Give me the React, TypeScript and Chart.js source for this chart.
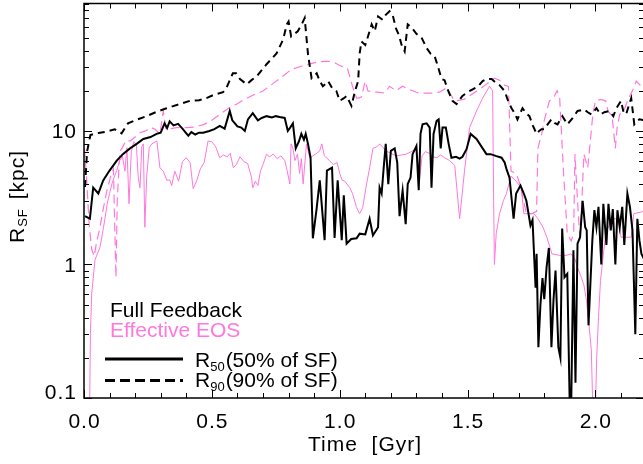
import React, { useEffect, useRef } from 'react';
import { Chart, registerables } from 'chart.js';

Chart.register(...registerables);

const FONT = '"Liberation Sans", Arial, Helvetica, sans-serif';
const PINK = 'rgb(255,120,220)';

// Full Feedback, R50 (black solid)  [time Gyr, kpc]
const ffR50: [number, number][] = [
  [0.004,2.3],[0.023,2.2],[0.036,3.76],[0.056,3.4],[0.075,4.26],[0.1,5.05],[0.128,6.0],[0.152,6.7],[0.18,7.4],[0.206,8.0],
  [0.232,8.7],[0.26,9.0],[0.284,9.5],[0.3,9.7],[0.315,11.4],[0.325,10.5],[0.335,11.8],[0.35,11.0],[0.368,11.3],[0.385,10.4],
  [0.4,9.6],[0.408,9.2],[0.42,9.8],[0.435,9.4],[0.45,9.7],[0.466,9.7],[0.49,10.0],[0.51,10.3],[0.531,10.9],[0.55,10.4],
  [0.57,14.1],[0.58,12.0],[0.6,10.8],[0.615,10.6],[0.629,10.0],[0.641,12.2],[0.66,13.6],[0.68,12.0],[0.695,12.5],[0.714,12.9],
  [0.735,12.6],[0.75,12.9],[0.765,12.7],[0.785,12.5],[0.797,10.0],[0.805,10.5],[0.817,11.4],[0.828,7.4],[0.84,8.3],[0.85,9.5],
  [0.86,8.6],[0.867,9.5],[0.876,8.0],[0.886,6.3],[0.895,1.57],[0.909,2.55],[0.922,4.26],[0.941,1.52],[0.95,5.05],[0.97,5.3],
  [0.98,1.58],[0.992,4.26],[1.008,1.52],[1.016,3.3],[1.027,1.43],[1.045,1.55],[1.066,1.57],[1.078,1.7],[1.1,1.68],[1.117,2.2],
  [1.13,1.65],[1.15,1.9],[1.156,3.76],[1.164,3.4],[1.172,5.3],[1.18,8.0],[1.19,4.0],[1.2,7.1],[1.215,7.4],[1.225,5.8],
  [1.234,2.3],[1.246,3.58],[1.258,2.0],[1.266,4.0],[1.277,4.47],[1.285,6.7],[1.3,7.7],[1.309,3.6],[1.316,9.5],[1.324,11.2],
  [1.34,11.4],[1.352,10.6],[1.359,3.76],[1.367,9.5],[1.379,11.9],[1.387,12.2],[1.395,7.4],[1.402,10.6],[1.415,10.6],[1.426,8.0],
  [1.437,6.3],[1.455,6.4],[1.469,6.2],[1.48,6.4],[1.496,7.3],[1.512,9.5],[1.535,8.7],[1.559,7.4],[1.574,6.7],[1.59,6.7],
  [1.61,6.5],[1.633,6.3],[1.645,5.8],[1.652,5.2],[1.664,4.47],[1.68,2.2],[1.69,3.4],[1.707,3.9],[1.72,3.4],[1.73,3.0],
  [1.746,1.96],[1.754,2.15],[1.766,0.67],[1.77,1.2],[1.777,0.24],[1.785,0.5],[1.793,0.79],[1.8,0.55],[1.809,0.95],[1.818,1.33],
  [1.828,0.24],[1.836,0.54],[1.844,0.9],[1.855,0.24],[1.863,0.2],[1.87,1.86],[1.879,0.8],[1.89,0.85],[1.9,0.08],[1.905,0.08],
  [1.914,1.28],[1.922,0.13],[1.93,1.43],[1.94,1.6],[1.95,3.0],[1.96,1.9],[1.966,1.8],[1.973,0.35],[1.988,1.52],[1.996,2.55],
  [2.004,1.9],[2.012,2.7],[2.023,1.0],[2.031,2.85],[2.043,1.4],[2.051,2.85],[2.06,1.8],[2.068,2.6],[2.078,1.0],[2.086,2.55],
  [2.095,1.9],[2.105,2.7],[2.113,1.4],[2.125,3.4],[2.135,2.7],[2.145,1.8],[2.156,0.3],[2.164,2.2],[2.172,1.52],[2.18,1.2],[2.19,1.1],
];

// Full Feedback, R90 (black dashed)
const ffR90: [number, number][] = [
  [0.004,3.8],[0.012,7.0],[0.025,9.3],[0.04,9.5],[0.062,9.7],[0.09,9.9],[0.12,10.3],[0.147,9.6],[0.172,11.4],[0.2,12.0],
  [0.245,12.9],[0.28,13.8],[0.323,14.8],[0.37,15.8],[0.414,16.8],[0.45,17.0],[0.479,17.6],[0.504,18.5],[0.544,19.5],[0.557,21],
  [0.582,27],[0.595,27],[0.61,24.5],[0.636,22.3],[0.655,24],[0.675,25.6],[0.714,31.6],[0.753,38],[0.779,48.5],[0.793,62.8],
  [0.8,66],[0.81,51],[0.836,55.8],[0.85,62],[0.863,70],[0.876,37.6],[0.89,24.8],[0.91,27],[0.922,23.6],[0.934,21.6],
  [0.945,22.5],[0.955,23.6],[0.97,21],[0.987,19.9],[1.0,16.8],[1.015,17.5],[1.027,18.3],[1.046,15.4],[1.06,19.9],[1.072,23.6],
  [1.078,38],[1.085,46.7],[1.1,44],[1.112,52],[1.125,62.8],[1.137,55.8],[1.15,72],[1.168,68],[1.18,74],[1.195,78.7],
  [1.207,74],[1.22,58.5],[1.232,52],[1.242,44],[1.254,39.4],[1.266,62.8],[1.28,60],[1.3,53.4],[1.32,50],[1.34,41.7],
  [1.355,38],[1.371,36.4],[1.385,30],[1.398,24.5],[1.41,24],[1.422,20.5],[1.441,16.8],[1.457,15.9],[1.48,18.3],[1.5,19.5],
  [1.52,20.5],[1.54,21.5],[1.559,23.6],[1.575,24.5],[1.594,24.5],[1.61,23],[1.625,22],[1.645,19.9],[1.66,16.5],[1.672,14.8],
  [1.685,13.5],[1.695,12.2],[1.705,13.5],[1.715,14.8],[1.73,13.5],[1.742,12.9],[1.755,11],[1.77,9.5],[1.78,10],[1.789,10.3],
  [1.8,10.3],[1.81,11],[1.828,12.2],[1.84,11.5],[1.852,11.2],[1.871,12.9],[1.89,11.2],[1.91,12.4],[1.93,14.1],[1.957,14.5],
  [1.97,13.8],[1.984,13.3],[2.004,14.8],[2.02,13.3],[2.035,13.8],[2.055,14.1],[2.07,12.9],[2.082,14.8],[2.1,16.8],[2.11,13.8],
  [2.12,13.3],[2.14,17.6],[2.152,11.2],[2.165,12],[2.172,12.2],[2.19,12],
];

// Effective EOS, R50 (pink solid)
const eosR50: [number, number][] = [
  [0.022,0.08],[0.025,0.3],[0.03,0.6],[0.043,1.08],[0.052,1.2],[0.062,1.33],[0.072,1.7],[0.082,2.2],[0.09,2.8],[0.1,3.4],
  [0.112,4.2],[0.128,5.05],[0.14,6.0],[0.15,6.5],[0.16,5.0],[0.168,7.5],[0.176,2.85],[0.185,7.0],[0.195,8.3],[0.205,7.8],
  [0.212,4.5],[0.219,3.75],[0.226,7.6],[0.232,8.0],[0.238,1.9],[0.245,4.5],[0.255,7.5],[0.265,8.0],[0.275,8.2],[0.285,8.4],
  [0.297,5.3],[0.31,5.0],[0.324,4.26],[0.335,4.3],[0.343,3.9],[0.355,5.0],[0.37,4.2],[0.385,5.9],[0.4,6.3],[0.415,5.8],
  [0.427,3.7],[0.44,4.2],[0.455,5.2],[0.47,5.8],[0.485,8.4],[0.5,8.3],[0.515,7.6],[0.531,6.3],[0.545,6.6],[0.56,6.4],
  [0.572,6.8],[0.584,5.3],[0.596,5.6],[0.61,6.4],[0.625,5.9],[0.64,5.7],[0.655,4.5],[0.66,3.75],[0.67,4.2],[0.68,3.9],
  [0.69,5.0],[0.7,5.6],[0.714,6.7],[0.725,6.4],[0.74,6.7],[0.755,6.2],[0.77,6.5],[0.785,6.0],[0.792,5.3],[0.805,4.0],
  [0.81,8.0],[0.817,7.4],[0.825,6.0],[0.835,6.7],[0.843,4.8],[0.85,6.2],[0.857,4.0],[0.87,8.0],[0.883,6.3],[0.895,6.5],
  [0.91,6.8],[0.922,7.1],[0.93,8.0],[0.94,6.5],[0.96,6.0],[0.975,5.6],[0.99,5.8],[1.0,4.8],[1.01,4.26],[1.02,4.2],
  [1.04,3.75],[1.05,3.4],[1.066,2.67],[1.078,2.4],[1.09,2.67],[1.105,4.0],[1.117,5.3],[1.13,7.4],[1.145,7.6],[1.156,8.0],
  [1.17,7.5],[1.18,7.1],[1.2,6.8],[1.22,6.5],[1.24,6.6],[1.26,6.7],[1.28,7.0],[1.3,7.4],[1.312,4.26],[1.322,6.5],
  [1.335,7.0],[1.35,6.8],[1.365,6.4],[1.38,6.3],[1.395,6.6],[1.41,6.3],[1.43,6.0],[1.45,5.5],[1.469,2.2],[1.488,5.0],
  [1.508,10.6],[1.535,14.1],[1.559,17.6],[1.586,21.6],[1.598,20],[1.602,3.0],[1.605,1.0],[1.612,1.7],[1.625,2.4],[1.64,3.0],
  [1.652,3.4],[1.67,4.6],[1.69,4.2],[1.71,3.75],[1.72,2.4],[1.74,2.4],[1.76,2.4],[1.775,2.2],[1.795,1.9],[1.81,1.6],
  [1.83,1.2],[1.86,1.17],[1.885,1.17],[1.905,1.2],[1.92,1.1],[1.93,0.95],[1.945,0.8],[1.955,0.7],[1.965,0.54],[1.975,0.35],
  [1.984,0.23],[1.99,0.08],[2.0,0.08],[2.005,0.2],[2.012,0.4],[2.02,0.76],[2.04,1.7],[2.06,2.1],[2.07,2.2],[2.09,2.2],
  [2.1,1.6],[2.14,1.6],[2.15,2.4],[2.19,2.5],
];

// Effective EOS, R90 (pink dashed)
const eosR90: [number, number][] = [
  [0.002,7.4],[0.01,4.5],[0.02,2.0],[0.03,1.3],[0.04,1.15],[0.05,1.5],[0.06,1.8],[0.075,2.6],[0.09,3.6],[0.105,4.6],
  [0.115,5.2],[0.12,2.0],[0.125,0.8],[0.13,3.0],[0.14,7.0],[0.15,7.5],[0.165,8.5],[0.18,8.4],[0.2,9.0],[0.219,9.7],
  [0.24,10.0],[0.264,10.6],[0.28,10.2],[0.297,9.5],[0.31,14.1],[0.32,10.4],[0.34,10.4],[0.362,10.6],[0.4,10.6],[0.434,10.7],
  [0.47,11.2],[0.5,12.0],[0.531,13.3],[0.57,15],[0.6,16],[0.622,17],[0.66,18.5],[0.7,19.9],[0.74,22.7],[0.77,25],
  [0.81,28.8],[0.85,30.5],[0.883,31.8],[0.92,33],[0.941,33.2],[0.96,33.2],[0.98,32.5],[1.0,30.9],[1.03,29.5],[1.05,21.6],
  [1.066,17.6],[1.075,17.6],[1.085,18],[1.1,23.6],[1.11,20],[1.13,19.5],[1.15,19.5],[1.176,19.2],[1.195,21.6],[1.22,20],
  [1.246,21.6],[1.27,20.5],[1.3,19.5],[1.31,19.2],[1.36,19.2],[1.39,19.5],[1.418,21],[1.449,16.8],[1.47,17],[1.488,17.3],
  [1.52,19],[1.547,20.5],[1.578,22.7],[1.605,24.8],[1.625,24],[1.645,22],[1.66,21.5],[1.67,5.0],[1.69,4.8],[1.7,4.26],
  [1.71,3.6],[1.73,2.4],[1.75,2.4],[1.77,2.5],[1.775,7.4],[1.79,9.5],[1.8,12],[1.82,16.8],[1.835,17.5],[1.85,20],
  [1.86,18],[1.875,5],[1.89,1.7],[1.905,1.5],[1.915,1.7],[1.92,6.7],[1.93,3],[1.94,1.5],[1.955,6.7],[1.97,5.3],
  [1.98,8.4],[1.99,13.3],[2.0,16.8],[2.02,17.2],[2.04,16.8],[2.05,14],[2.065,13],[2.078,7.4],[2.085,10.6],[2.095,13.3],
  [2.11,14],[2.13,17.6],[2.145,20],[2.16,23.6],[2.175,22],[2.19,23],
];

const xMajorTicks = [0, 0.5, 1.0, 1.5, 2.0];
const xTickLabels = ['0.0', '0.5', '1.0', '1.5', '2.0'];
const yMajorTicks = [0.1, 1, 10];
const yTickLabels = ['0.1', '1', '10'];
const legendGroups = ['Full Feedback', 'Effective EOS'];
const legendLines = [
  { sub: '50', text: '(50% of SF)' },
  { sub: '90', text: '(90% of SF)' },
];

const X_MIN = 0;
const X_MAX = 2.19;
const Y_MIN = 0.1;
const Y_MAX = 90;
const CW = 650;
const CH = 464;

const toXY = (a: [number, number][]) => a.map(([x, y]) => ({ x, y }));

const decor = {
  id: 'decor',
  afterDraw(chart: any) {
    const { ctx, chartArea: a, scales } = chart;
    const xs = scales.x;
    const ys = scales.y;
    ctx.save();
    const seg = (x1: number, y1: number, x2: number, y2: number) => {
      ctx.beginPath();
      ctx.moveTo(x1, y1);
      ctx.lineTo(x2, y2);
      ctx.stroke();
    };
    ctx.strokeStyle = '#000';
    ctx.setLineDash([]);
    // frame
    ctx.lineWidth = 1.5;
    ctx.strokeRect(a.left, a.top, a.right - a.left, a.bottom - a.top);
    // x ticks (inward, top & bottom)
    ctx.lineWidth = 1;
    for (let i = 0; i <= 22; i++) {
      const v = i / 10;
      if (v > xs.max) break;
      const px = Math.round(xs.getPixelForValue(v)) + 0.5;
      const len = i % 5 === 0 ? 8 : 5;
      seg(px, a.bottom, px, a.bottom - len);
      seg(px, a.top, px, a.top + len);
    }
    // y ticks (inward, left & right)
    for (let d = -1; d <= 1; d++) {
      for (let m = 1; m <= 9; m++) {
        const v = m * Math.pow(10, d);
        if (v < ys.min - 1e-9 || v > ys.max) continue;
        const py = Math.round(ys.getPixelForValue(v)) + 0.5;
        const len = m === 1 ? 8 : 5;
        seg(a.left, py, a.left + len, py);
        seg(a.right, py, a.right - len, py);
      }
    }
    // tick labels
    ctx.fillStyle = '#000';
    ctx.font = `21px ${FONT}`;
    (ctx as any).letterSpacing = '1px';
    ctx.textBaseline = 'alphabetic';
    ctx.textAlign = 'center';
    xMajorTicks.forEach((v, i) => {
      ctx.fillText(xTickLabels[i], xs.getPixelForValue(v) + 0.5, a.bottom + 30);
    });
    ctx.textAlign = 'right';
    yMajorTicks.forEach((v, i) => {
      const py = ys.getPixelForValue(v);
      ctx.fillText(yTickLabels[i], 77, Math.min(py + 7.5, a.bottom + 0.5));
    });
    // x title
    ctx.textAlign = 'left';
    ctx.fillText('Time  [Gyr]', 308, 451);
    // y title (rotated)
    ctx.save();
    ctx.translate(24, 243);
    ctx.rotate(-Math.PI / 2);
    ctx.font = `21px ${FONT}`;
    ctx.fillText('R', 0, 0);
    const wR = ctx.measureText('R').width;
    ctx.font = `13px ${FONT}`;
    ctx.fillText('SF', wR, 3);
    const wSF = ctx.measureText('SF').width;
    ctx.font = `21px ${FONT}`;
    ctx.fillText('[kpc]', wR + wSF + 9, 0);
    ctx.restore();
    // legend
    (ctx as any).letterSpacing = '0px';
    ctx.font = `21px ${FONT}`;
    ctx.textAlign = 'left';
    ctx.fillStyle = '#000';
    ctx.fillText(legendGroups[0], 110, 317);
    ctx.fillStyle = PINK;
    ctx.fillText(legendGroups[1], 110, 337);
    ctx.fillStyle = '#000';
    ctx.lineWidth = 3;
    legendLines.forEach((l, i) => {
      const y = 359 + i * 21.5;
      ctx.setLineDash(i === 0 ? [] : [10, 5]);
      seg(105, y, 183, y);
      ctx.setLineDash([]);
      const base = 367 + i * 20;
      ctx.font = `21px ${FONT}`;
      ctx.fillText('R', 195, base);
      const w1 = ctx.measureText('R').width;
      ctx.font = `13px ${FONT}`;
      ctx.fillText(l.sub, 195 + w1, base + 4);
      const w2 = ctx.measureText(l.sub).width;
      ctx.font = `21px ${FONT}`;
      ctx.fillText(l.text, 195 + w1 + w2 + 1, base);
    });
    ctx.restore();
  },
};

export default function App() {
  const ref = useRef<HTMLCanvasElement | null>(null);
  useEffect(() => {
    if (!ref.current) return;
    const chart = new Chart(ref.current, {
      type: 'line',
      data: {
        datasets: [
          { label: 'FF R50', data: toXY(ffR50), borderColor: '#000', borderWidth: 2, clip: 0 },
          { label: 'FF R90', data: toXY(ffR90), borderColor: '#000', borderWidth: 2, borderDash: [7, 5], clip: 0 },
          { label: 'EOS R50', data: toXY(eosR50), borderColor: PINK, borderWidth: 1, clip: 0 },
          { label: 'EOS R90', data: toXY(eosR90), borderColor: PINK, borderWidth: 1.2, borderDash: [9, 5], clip: 0 },
        ] as any,
      },
      options: {
        responsive: false,
        maintainAspectRatio: false,
        animation: false,
        parsing: true as any,
        layout: { padding: { left: 84, top: 3.5, right: CW - 644, bottom: CH - 398 } },
        elements: { point: { radius: 0 }, line: { tension: 0, fill: false } },
        plugins: { legend: { display: false }, tooltip: { enabled: false } },
        scales: {
          x: { type: 'linear', min: X_MIN, max: X_MAX, display: false },
          y: { type: 'logarithmic', min: Y_MIN, max: Y_MAX, display: false },
        },
      },
      plugins: [decor],
    });
    return () => chart.destroy();
  }, []);
  return (
    <div style={{ position: 'absolute', left: 0, top: 0, width: 643, height: 464, overflow: 'hidden', background: '#fff' }}>
      <canvas ref={ref} width={CW} height={CH} style={{ display: 'block' }} />
    </div>
  );
}
